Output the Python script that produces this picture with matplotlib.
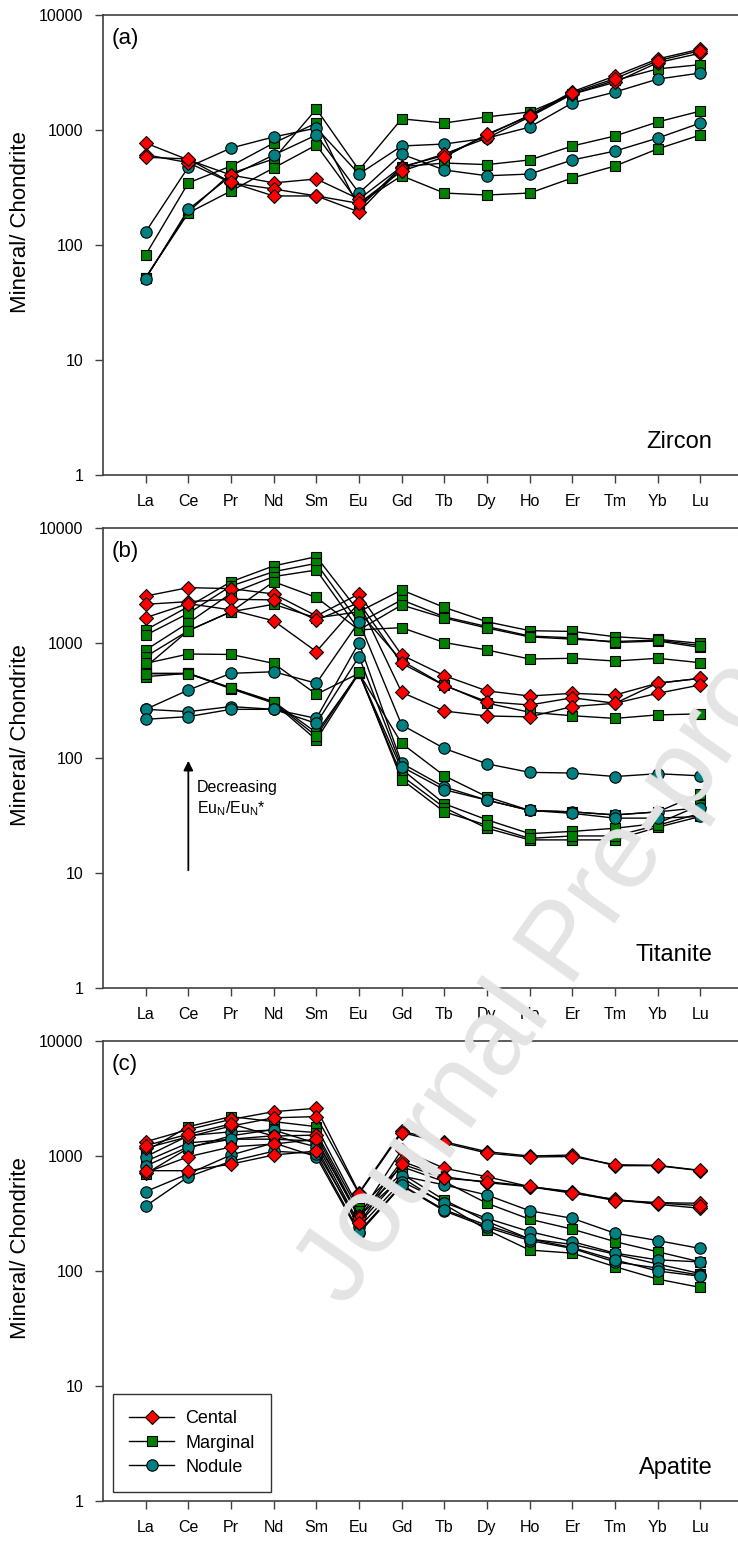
import numpy as np
import matplotlib.pyplot as plt
from matplotlib.lines import Line2D

plt.rcParams['font.family'] = ['Liberation Sans', 'DejaVu Sans']
plt.rcParams['mathtext.default'] = 'regular'

ree = ['La', 'Ce', 'Pr', 'Nd', 'Sm', 'Eu', 'Gd', 'Tb', 'Dy', 'Ho', 'Er', 'Tm', 'Yb', 'Lu']

# (a) zircon
zr_cental = [
    [770, 550, 406, 347, 375, 251, 480, 600, 900, 1350, 2150, 2950, 4150, 5050],
    [610, 520, 347, 307, 267, 194, 470, 620, 850, 1300, 2050, 2600, 3850, 4650],
    [580, 560, 350, 267, 267, 230, 440, 580, 920, 1320, 2100, 2800, 4000, 4900],
]
zr_marginal = [
    [52, 194, 420, 560, 1520, 449, 1250, 1150, 1300, 1435, 2050, 2700, 3400, 3700],
    [82, 347, 486, 770, 1150, 210, 480, 516, 500, 549, 726, 887, 1175, 1460],
    [52, 190, 295, 468, 740, 230, 400, 283, 272, 283, 383, 486, 685, 905],
]
zr_nodule = [
    [130, 476, 697, 870, 1040, 414, 726, 755, 850, 1060, 1720, 2140, 2770, 3130],
    [51, 204, 400, 606, 905, 283, 617, 449, 400, 414, 549, 656, 850, 1150],
]

# (b) titanite
tt_cental = [
    [2560, 3030, 2970, 2670, 1720, 2670, 787, 520, 383, 346, 365, 353, 447, 493],
    [2170, 2290, 2400, 2370, 1585, 2240, 665, 427, 309, 289, 334, 299, 447, 493],
    [1660, 2200, 1940, 1560, 842, 2240, 373, 256, 232, 228, 280, 299, 365, 432],
]
tt_marginal = [
    [1300, 2070, 3410, 4680, 5630, 1870, 2890, 2040, 1530, 1280, 1260, 1135, 1077, 993],
    [1170, 1810, 3130, 4170, 4930, 1500, 2370, 1690, 1390, 1150, 1110, 1010, 1040, 917],
    [869, 1500, 2700, 3780, 4310, 1300, 2140, 1650, 1350, 1130, 1080, 1030, 1060, 950],
    [760, 1280, 1870, 3410, 2490, 1300, 1360, 1010, 869, 726, 736, 697, 736, 674],
    [620, 1280, 1870, 2170, 1650, 1870, 700, 430, 300, 250, 233, 221, 237, 242],
    [665, 802, 795, 665, 358, 545, 134, 70, 46, 35, 34, 32, 34, 49],
    [545, 545, 408, 309, 166, 545, 80, 40, 29, 22, 23, 24.5, 27, 39],
    [510, 545, 400, 300, 144, 545, 70, 37, 24.5, 19.4, 19.4, 19.4, 25, 31],
    [540, 540, 405, 305, 155, 560, 65, 34, 26, 20, 21, 21, 26, 33],
]
tt_nodule = [
    [265, 390, 545, 562, 447, 1530, 194, 121, 89, 75, 74, 69, 73, 70],
    [265, 253, 280, 265, 221, 1007, 90, 56, 43, 35, 34, 32, 34, 37],
    [217, 229, 265, 265, 200, 760, 84, 53, 43, 35, 33, 30, 30, 31],
]

# (c) apatite
ap_cental = [
    [1330, 1700, 2080, 2430, 2600, 480, 1650, 1330, 1090, 1000, 1020, 824, 824, 745],
    [1170, 1470, 1820, 2150, 2200, 470, 1600, 1300, 1060, 980, 990, 840, 830, 750],
    [1230, 1550, 1900, 1490, 1520, 300, 1130, 782, 660, 541, 490, 414, 393, 388],
    [716, 986, 1200, 1270, 1400, 290, 900, 660, 587, 540, 475, 420, 380, 351],
    [745, 745, 850, 1020, 1105, 260, 850, 640, 600, 545, 480, 410, 390, 370],
]
ap_marginal = [
    [1100, 1800, 2200, 1990, 1800, 350, 808, 599, 388, 282, 231, 180, 147, 120],
    [700, 1170, 1500, 1700, 1600, 330, 700, 414, 270, 190, 170, 140, 115, 95],
    [900, 1300, 1400, 1400, 1350, 300, 650, 380, 228, 152, 143, 109, 85, 72],
]
ap_nodule = [
    [986, 1500, 1625, 1680, 1290, 260, 670, 560, 458, 334, 287, 213, 184, 157],
    [818, 1200, 1400, 1500, 1200, 240, 600, 393, 287, 220, 180, 143, 125, 120],
    [490, 700, 1020, 1300, 986, 213, 552, 333, 240, 184, 157, 120, 106, 92],
    [367, 660, 900, 1100, 1050, 220, 560, 340, 250, 190, 160, 125, 100, 90],
]

red, green, teal = '#ff0000', '#008000', '#008080'
x = np.arange(1, len(ree) + 1)
spine_c = '#404040'
mk = dict(color='black', lw=1.0, mec='black', mew=0.8)


def draw(ax, cental, marginal, nodule):
    for s in marginal:
        ax.plot(x, s, marker='s', ms=7.4, mfc=green, **mk)
    for s in nodule:
        ax.plot(x, s, marker='o', ms=8.2, mfc=teal, **mk)
    for s in cental:
        ax.plot(x, s, marker='D', ms=7.4, mfc=red, **mk)
    ax.set_yscale('log')
    ax.set_ylim(1, 10000)
    ax.set_xlim(0, 15)
    ax.set_yticks([1, 10, 100, 1000, 10000], ['1', '10', '100', '1000', '10000'])
    ax.minorticks_off()
    ax.set_xticks(x, ree)
    ax.tick_params(direction='out', length=6, width=1, color=spine_c, labelsize=11.5, pad=8)
    for sp in ax.spines.values():
        sp.set_color(spine_c)
        sp.set_linewidth(1.2)
    ax.set_ylabel('Mineral/ Chondrite', fontsize=16)
    ax.yaxis.set_label_coords(-0.112, 0.55)


fig = plt.figure(figsize=(7.38, 15.42), dpi=100)
W, H = 738.0, 1542.0
tops = [15, 528, 1041]
axes = []
for t in tops:
    axes.append(fig.add_axes([103 / W, 1 - (t + 460) / H, 640 / W, 460 / H]))

panels = [(zr_cental, zr_marginal, zr_nodule, '(a)', 'Zircon'),
          (tt_cental, tt_marginal, tt_nodule, '(b)', 'Titanite'),
          (ap_cental, ap_marginal, ap_nodule, '(c)', 'Apatite')]
for ax, (c, m, n, tag, name) in zip(axes, panels):
    draw(ax, c, m, n)
    ax.text(0.013, 0.948, tag, transform=ax.transAxes, fontsize=16, va='center', ha='left')
    ax.text(0.952, 0.072, name, transform=ax.transAxes, fontsize=17, va='center', ha='right')

# arrow and note in (b)
axb = axes[1]
axb.annotate('', xy=(2, 100), xytext=(2, 10),
             arrowprops=dict(arrowstyle='-|>', color='black', lw=1.3, mutation_scale=14))
axb.text(2.2, 55, 'Decreasing', fontsize=11.5, va='center', ha='left')
axb.text(2.2, 36, 'Eu$_\\mathregular{N}$/Eu$_\\mathregular{N}$*', fontsize=11.5, va='center', ha='left')

handles = [
    Line2D([], [], marker='D', ms=7.4, mfc=red, label='Cental', **mk),
    Line2D([], [], marker='s', ms=7.4, mfc=green, label='Marginal', **mk),
    Line2D([], [], marker='o', ms=8.2, mfc=teal, label='Nodule', **mk),
]
leg = axes[2].legend(handles=handles, loc='lower left', bbox_to_anchor=(0.0156, 0.0196),
                     borderaxespad=0, fontsize=13, frameon=True, fancybox=False,
                     edgecolor='black', handlelength=2.5, handletextpad=0.6,
                     labelspacing=0.4, borderpad=0.9)
leg.get_frame().set_linewidth(1.0)

# watermark
fig.text(565 / W, 1 - 945 / H, 'Journal Pre-proof', fontsize=79, color='#e4e4e4',
         rotation=55, rotation_mode='anchor', ha='center', va='center', zorder=20)

fig.savefig('out.png', dpi=100)
